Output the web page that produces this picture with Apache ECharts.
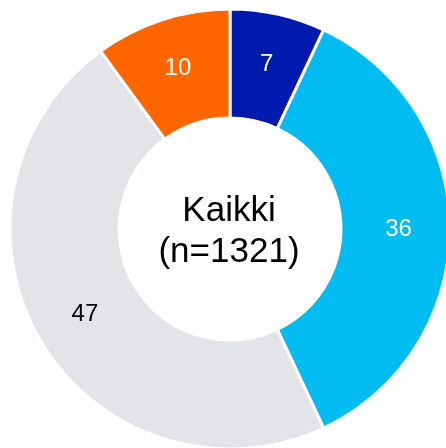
<!DOCTYPE html>
<html>
<head>
<meta charset="utf-8">
<script src="https://cdn.jsdelivr.net/npm/echarts@6/dist/echarts.min.js"></script>
<style>
  html, body { margin: 0; padding: 0; background: #fff; }
  #chart_id { width: 446px; height: 448px; }
</style>
</head>
<body>
<div id="chart_id"></div>
<script>
// data
var categories = ['A', 'B', 'C', 'D'];
var values = [7, 36, 47, 10];
var colors = ['#001AAD', '#00BCF0', '#E3E4E8', '#FF6600'];
var labelColors = ['#ffffff', '#ffffff', '#000000', '#ffffff'];
var centerText = 'Kaikki\n(n=1321)';

var myChart = echarts.init(document.getElementById('chart_id'));

var pieData = [];
for (var i = 0; i < values.length; i++) {
	pieData.push({
		name : categories[i],
		value : values[i],
		itemStyle : { color : colors[i] },
		label : { color : labelColors[i] }
	});
}

option = {
	animation : false,
	graphic : [ {
		type : 'text',
		x : 229,
		y : 232,
		style : {
			text : centerText,
			align : 'center',
			verticalAlign : 'middle',
			fontFamily : 'Liberation Sans',
			fontSize : 35,
			lineHeight : 41,
			fill : '#000'
		}
	} ],
	series : [ {
		type : 'pie',
		center : [230, 229],
		radius : [111, 220],
		startAngle : 90,
		clockwise : true,
		itemStyle : {
			borderColor : '#fff',
			borderWidth : 3
		},
		label : {
			show : true,
			position : 'inside',
			formatter : '{c}',
			fontFamily : 'Liberation Sans',
			fontSize : 24
		},
		labelLine : { show : false },
		emphasis : { disabled : true },
		data : pieData
	} ]
};

myChart.setOption(option);
</script>
</body>
</html>
